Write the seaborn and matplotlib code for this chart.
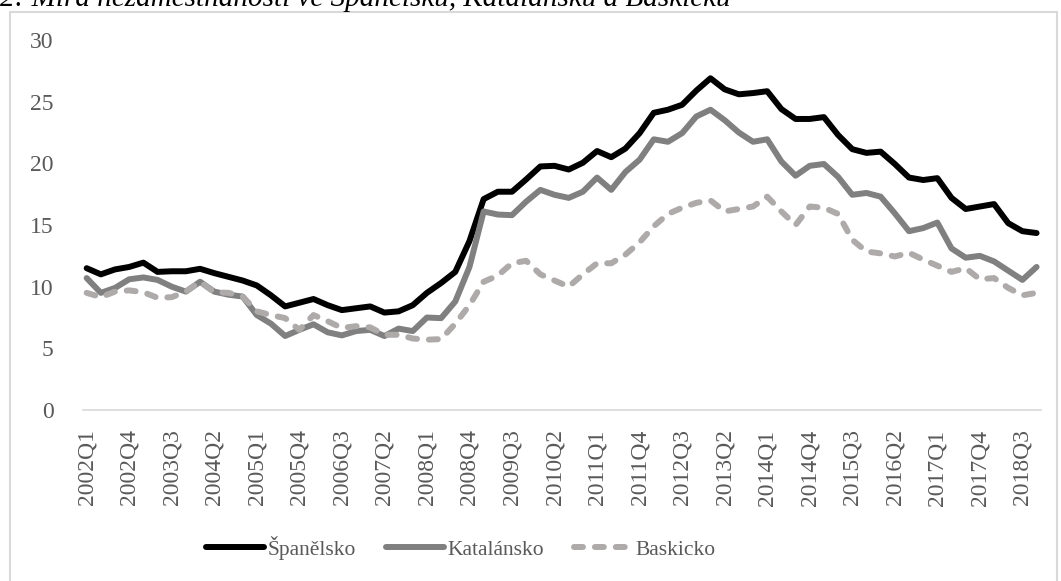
import numpy as np
import pandas as pd
import matplotlib
matplotlib.use('Agg')
import matplotlib.pyplot as plt
from matplotlib.patches import Rectangle
import seaborn as sns

# quarterly unemployment rate (%), 2002Q1 - 2018Q4
years = list(range(2002, 2019))
quarters = ['{}Q{}'.format(y, q) for y in years for q in range(1, 5)]

spanelsko = [11.5, 11.0, 11.4, 11.6, 11.95, 11.2, 11.25, 11.25, 11.45, 11.1, 10.8, 10.5,
             10.1, 9.3, 8.4, 8.7, 9.0, 8.5, 8.1, 8.25, 8.4, 7.9, 8.0, 8.5,
             9.5, 10.3, 11.2, 13.7, 17.1, 17.7, 17.7, 18.7, 19.75, 19.8, 19.5, 20.05,
             21.0, 20.5, 21.2, 22.45, 24.1, 24.35, 24.75, 25.9, 26.9, 26.0, 25.6, 25.7,
             25.85, 24.4, 23.6, 23.6, 23.75, 22.3, 21.15, 20.85, 20.95, 19.95, 18.85, 18.65,
             18.8, 17.2, 16.3, 16.5, 16.7, 15.15, 14.5, 14.35]

katalansko = [10.7, 9.5, 9.9, 10.6, 10.75, 10.55, 10.0, 9.6, 10.4, 9.6, 9.35, 9.2,
              7.7, 7.0, 6.0, 6.5, 6.95, 6.3, 6.05, 6.4, 6.5, 6.0, 6.6, 6.4,
              7.5, 7.45, 8.8, 11.6, 16.1, 15.85, 15.8, 16.9, 17.85, 17.45, 17.2, 17.7,
              18.85, 17.85, 19.3, 20.3, 21.95, 21.75, 22.45, 23.8, 24.35, 23.5, 22.5, 21.75,
              21.95, 20.15, 19.0, 19.8, 19.95, 18.9, 17.45, 17.6, 17.3, 15.95, 14.5, 14.75,
              15.2, 13.1, 12.35, 12.5, 12.05, 11.3, 10.55, 11.6]

baskicko = [9.5, 9.15, 9.6, 9.7, 9.55, 9.1, 9.15, 9.6, 10.4, 9.55, 9.5, 9.2,
            8.0, 7.7, 7.45, 6.5, 7.7, 7.2, 6.65, 6.8, 6.7, 6.1, 6.1, 5.8,
            5.7, 5.75, 7.0, 8.5, 10.4, 10.9, 11.9, 12.1, 11.0, 10.5, 10.0, 11.0,
            11.9, 11.9, 12.6, 13.6, 14.9, 15.9, 16.4, 16.8, 17.0, 16.1, 16.3, 16.5,
            17.3, 16.1, 15.0, 16.5, 16.4, 15.9, 13.8, 12.85, 12.7, 12.45, 12.75, 12.2,
            11.7, 11.2, 11.5, 10.6, 10.7, 9.9, 9.3, 9.5]

series = ['Španělsko', 'Katalánsko', 'Baskicko']
colors = ['#000000', '#808080', '#AEAAAA']

df = pd.DataFrame({'idx': np.arange(len(quarters)), 'ctvrtleti': quarters,
                   'Španělsko': spanelsko, 'Katalánsko': katalansko, 'Baskicko': baskicko})
long = df.melt(id_vars=['idx', 'ctvrtleti'], value_vars=series,
               var_name='oblast', value_name='mira')

sns.set_theme(style='white')
plt.rcParams['font.family'] = ['Liberation Serif', 'DejaVu Serif']

fig = plt.figure(figsize=(10.61, 5.81), dpi=100)
ax = fig.add_axes([0.0782, 0.2943, 0.9028, 0.6368])

sns.lineplot(data=long, x='idx', y='mira', hue='oblast', style='oblast',
             hue_order=series, style_order=series, palette=colors,
             dashes={'Španělsko': '', 'Katalánsko': '', 'Baskicko': (1.5, 2.0)},
             linewidth=4.3, ax=ax, legend=False)
for line in ax.get_lines():
    line.set_solid_capstyle('round')
    line.set_dash_capstyle('round')
    line.set_solid_joinstyle('round')

ax.set_xlim(-0.26, 67.3)
ax.set_ylim(0, 30)
ax.set_yticks(range(0, 31, 5))
tick_pos = list(range(0, len(quarters), 3))
ax.set_xticks(tick_pos)
ax.set_xticklabels([quarters[i] for i in tick_pos], rotation=90)
ax.tick_params(axis='x', length=0, pad=14, labelsize=17, labelcolor='#595959')
ax.tick_params(axis='y', length=0, pad=21, labelsize=17, labelcolor='#595959')
ax.set_xlabel('')
ax.set_ylabel('')
for s in ['left', 'top', 'right']:
    ax.spines[s].set_visible(False)
ax.spines['bottom'].set_color('#d9d9d9')
ax.spines['bottom'].set_linewidth(1.2)

# legend
handles = []
for name, c in zip(series, colors):
    if name == 'Baskicko':
        h, = ax.plot([], [], color=c, lw=4.3, dashes=(1.5, 2.0), dash_capstyle='round')
    else:
        h, = ax.plot([], [], color=c, lw=4.3, solid_capstyle='round')
    handles.append(h)
fig.legend(handles, series, loc='center left', bbox_to_anchor=(0.184, 0.057),
           ncol=3, frameon=False, fontsize=15.5, handlelength=2.7, handletextpad=0.15,
           columnspacing=1.4, borderpad=0, labelcolor='#595959')

# chart frame and cut-off caption above it
fig.patches.append(Rectangle((10 / 1061, -0.1), 1047 / 1061, 1.1 - 12 / 581,
                             transform=fig.transFigure, fill=False,
                             edgecolor='#d9d9d9', lw=1.5))
fig.text(0.0, 1 - 6 / 581, '2: Míra nezaměstnanosti ve Španělsku, Katalánsku a Baskicku',
         ha='left', va='baseline', fontsize=21, style='italic', color='#000000')

fig.savefig('out.png', dpi=100)
